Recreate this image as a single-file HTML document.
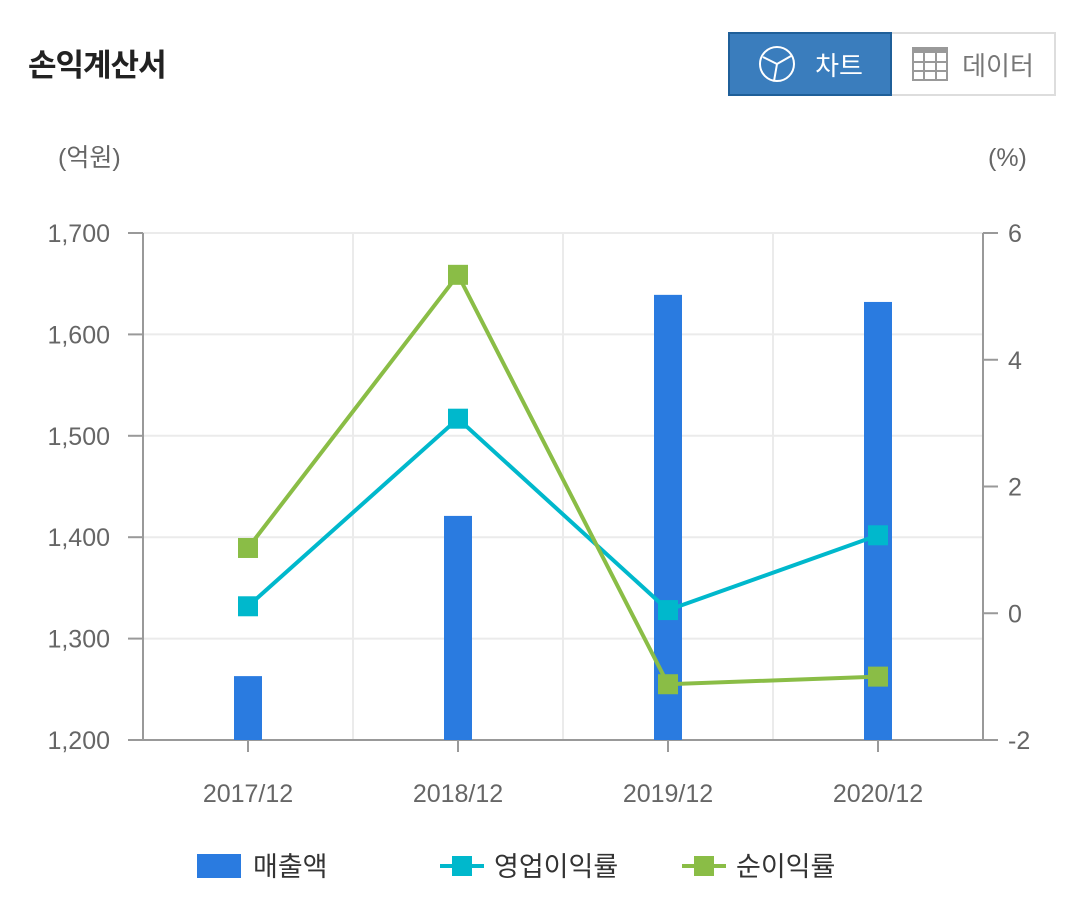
<!DOCTYPE html>
<html><head><meta charset="utf-8"><style>
body{margin:0;width:1080px;height:899px;background:#fff;font-family:"Liberation Sans","Noto Sans CJK KR",sans-serif;overflow:hidden;position:relative}
.title{position:absolute;left:28px;top:40px;font-size:31px;font-weight:bold;color:#222;letter-spacing:-1px}
.btn{position:absolute;top:32px;height:64px;box-sizing:border-box;display:flex;align-items:center;justify-content:center;font-size:26px}
</style></head><body>
<div class="title">손익계산서</div>
<div class="btn" style="left:728px;width:164px;background:#3a7dbd;border:2px solid #1f5f99;color:#fff">
<svg width="40" height="40" viewBox="0 0 40 40" style="margin-right:18px"><circle cx="20" cy="20" r="17" fill="none" stroke="#fff" stroke-width="2"/><path d="M20 20L6 13M20 20L34 12M20 20L17 37" stroke="#fff" stroke-width="2"/></svg>차트</div>
<div class="btn" style="left:892px;width:164px;background:#fff;border:2px solid #ddd;border-left:none;color:#777">
<svg width="36" height="34" viewBox="0 0 36 34" style="margin-right:14px"><rect x="1" y="1" width="34" height="32" fill="none" stroke="#999" stroke-width="2"/><rect x="1" y="1" width="34" height="5" fill="#999"/><path d="M12 6V33M24 6V33M1 15H35M1 24H35" stroke="#999" stroke-width="2"/></svg>데이터</div>
<svg id="chart" width="1080" height="899" style="position:absolute;left:0;top:0"></svg>
<script>
const categories=["2017/12","2018/12","2019/12","2020/12"];
const sales=[1263,1421,1639,1632];
const opMargin=[0.11,3.07,0.05,1.23];
const netMargin=[1.03,5.34,-1.12,-1.0];
const leftTicks=[1200,1300,1400,1500,1600,1700];
const rightTicks=[-2,0,2,4,6];
const X0=143,X1=983,Y0=740,Y1=233;
const yL=v=>Y0-(v-1200)/500*(Y0-Y1);
const yR=v=>Y0-(v+2)/8*(Y0-Y1);
const band=(X1-X0)/categories.length;
const xC=i=>X0+band*(i+0.5);
const svg=document.getElementById('chart');const NS='http://www.w3.org/2000/svg';
function mk(t,a,txt){const e=document.createElementNS(NS,t);for(const k in a)e.setAttribute(k,a[k]);if(txt!==undefined)e.textContent=txt;svg.appendChild(e);return e;}
leftTicks.forEach(v=>{const g=mk('line',{x1:X0,x2:X1,y1:yL(v),y2:yL(v),stroke:'#ebebeb','stroke-width':2});
const t=mk('text',{x:110,y:yL(v)+9,'text-anchor':'end','font-size':25,fill:'#666'},v.toLocaleString('en-US'));
mk('line',{x1:128,x2:143,y1:yL(v),y2:yL(v),stroke:'#999','stroke-width':2});});
for(let i=1;i<categories.length;i++){const g=mk('line',{x1:X0+band*i,x2:X0+band*i,y1:Y1,y2:Y0,stroke:'#ebebeb','stroke-width':2});}
rightTicks.forEach(v=>{mk('line',{x1:983,x2:998,y1:yR(v),y2:yR(v),stroke:'#999','stroke-width':2});
const t=mk('text',{x:1008,y:yR(v)+9,'font-size':25,fill:'#666'},String(v));});
mk('line',{x1:X0,x2:X0,y1:Y1,y2:Y0,stroke:'#999','stroke-width':2});
mk('line',{x1:X1,x2:X1,y1:Y1,y2:Y0,stroke:'#999','stroke-width':2});
mk('line',{x1:X0,x2:X1,y1:Y0,y2:Y0,stroke:'#999','stroke-width':2});
let t=mk('text',{x:58,y:166,'font-size':25,fill:'#666'},'(억원)');
t=mk('text',{x:988,y:166,'font-size':25,fill:'#666'},'(%)');
categories.forEach((c,i)=>{mk('line',{x1:xC(i),x2:xC(i),y1:Y0,y2:Y0+12,stroke:'#999','stroke-width':2});
const l=mk('text',{x:xC(i),y:802,'text-anchor':'middle','font-size':25,fill:'#666'},c);
const b=mk('rect',{x:xC(i)-14,y:yL(sales[i]),width:28,height:Y0-yL(sales[i]),fill:'#2a7be0'});});
function line(arr,col,name){mk('polyline',{points:arr.map((v,i)=>xC(i)+','+yR(v)).join(' '),fill:'none',stroke:col,'stroke-width':4});
arr.forEach((v,i)=>{const p=mk('rect',{x:xC(i)-10,y:yR(v)-10,width:20,height:20,fill:col});});}
line(opMargin,'#00b8cc','operating-margin-point');
line(netMargin,'#8abd46','net-margin-point');
// legend
let r=mk('rect',{x:197,y:854,width:44,height:24,fill:'#2a7be0'});
t=mk('text',{x:253,y:876,'font-size':27,fill:'#333'},'매출액');
mk('line',{x1:440,x2:484,y1:866,y2:866,stroke:'#00b8cc','stroke-width':4});mk('rect',{x:452,y:856,width:20,height:20,fill:'#00b8cc'});
t=mk('text',{x:494,y:876,'font-size':27,fill:'#333'},'영업이익률');
mk('line',{x1:682,x2:726,y1:866,y2:866,stroke:'#8abd46','stroke-width':4});mk('rect',{x:694,y:856,width:20,height:20,fill:'#8abd46'});
t=mk('text',{x:736,y:876,'font-size':27,fill:'#333'},'순이익률');
</script>
</body></html>
